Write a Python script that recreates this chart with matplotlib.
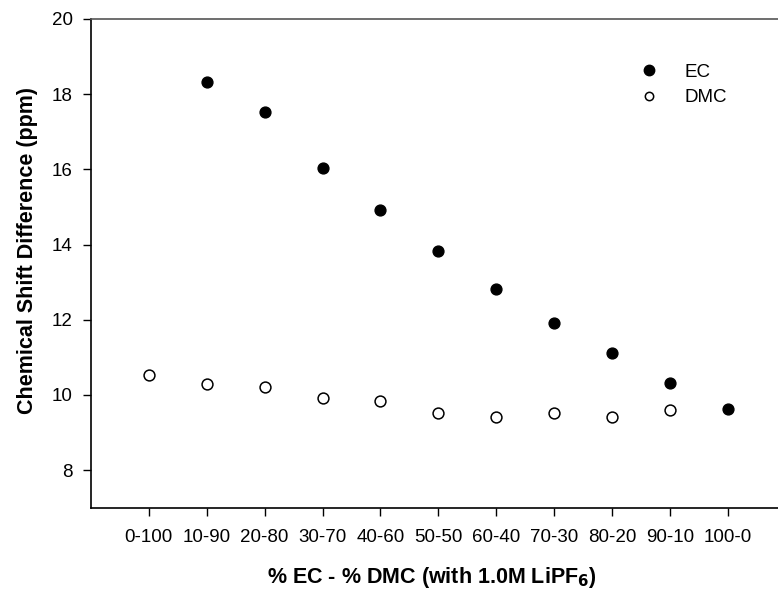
import matplotlib
matplotlib.use("Agg")
import matplotlib.pyplot as plt
import numpy as np

categories = ["0-100", "10-90", "20-80", "30-70", "40-60", "50-50",
              "60-40", "70-30", "80-20", "90-10", "100-0"]
ec_values = [np.nan, 18.33, 17.53, 16.03, 14.93, 13.82, 12.82, 11.92, 11.12, 10.32, 9.62]
dmc_values = [10.53, 10.28, 10.22, 9.93, 9.83, 9.52, 9.42, 9.52, 9.42, 9.59, np.nan]
y_ticks = [8, 10, 12, 14, 16, 18, 20]

plt.rcParams['font.family'] = ['Liberation Sans', 'DejaVu Sans']

fig = plt.figure(figsize=(7.78, 5.90), dpi=100)
ax = fig.add_axes([0.1166, 0.1395, 0.8834, 0.8283])

x = np.arange(len(categories))
ax.plot(x, ec_values, linestyle='none', marker='o', markersize=7.8,
        markerfacecolor='black', markeredgecolor='black', label='EC')
ax.plot(x, dmc_values, linestyle='none', marker='o', markersize=7.8,
        markerfacecolor='white', markeredgecolor='black', markeredgewidth=1.1,
        label='DMC')

ax.set_xlim(-1, 10.86)
ax.set_ylim(7, 20)
ax.set_xticks(x)
ax.set_xticklabels(categories, fontsize=13.5)
ax.set_yticks(y_ticks)
ax.set_yticklabels([str(t) for t in y_ticks], fontsize=13.5)
ax.tick_params(direction='out', length=6, width=1, color='black')
ax.tick_params(axis='x', pad=9)
ax.tick_params(axis='y', pad=7)

ax.spines['right'].set_visible(False)
ax.spines['top'].set_color('#555555')
ax.spines['top'].set_linewidth(1.2)
ax.spines['left'].set_linewidth(1.2)
ax.spines['bottom'].set_linewidth(1.2)

ax.set_ylabel('Chemical Shift Difference (ppm)', fontsize=15.5, fontweight='bold')
ax.yaxis.set_label_coords(-0.077, 0.527)
ax.set_xlabel('% EC - % DMC (with 1.0M LiPF$_\\mathbf{6}$)', fontsize=15.5, fontweight='bold')
ax.xaxis.set_label_coords(0.497, -0.117)

leg = ax.legend(loc='upper left', bbox_to_anchor=(0.785, 0.924), frameon=False,
                fontsize=13.5, handletextpad=1.3, labelspacing=0.45,
                handlelength=1.2, borderaxespad=0)
leg.legend_handles[0].set_markersize(7.5)
leg.legend_handles[1].set_markersize(6.0)

fig.savefig('out.png', dpi=100)
